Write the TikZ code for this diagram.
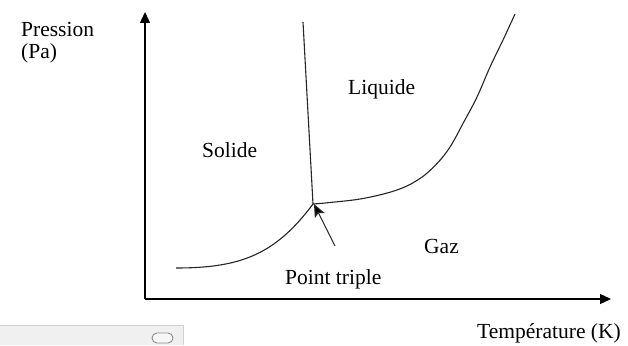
\documentclass[tikz,border=0pt]{standalone}
\usepackage{fontspec}
\setmainfont{Liberation Serif}
\usetikzlibrary{arrows.meta}
\begin{document}
\begin{tikzpicture}[x=1pt,y=-1pt,
  lbl/.style={inner sep=0pt,anchor=base west,font=\fontsize{21.5}{24}\selectfont},
  axis/.style={line width=1.3pt,-{Triangle[length=11pt,width=10pt]}},
  phase/.style={line width=1.1pt,draw=black!85},
  pointer/.style={line width=1.1pt,draw=black!85,-{Stealth[length=13pt,width=11pt,inset=3pt,fill=black]}}]
\useasboundingbox (0,0) rectangle (628,345);
\fill[white] (0,0) rectangle (628,345);
% coordinates
\coordinate (O) at (145,299);
\coordinate (ytop) at (145,12);
\coordinate (xend) at (611,299);
\coordinate (tp) at (313,204);
\coordinate (mtop) at (303,22);
\coordinate (sstart) at (176,268);
\coordinate (ptail) at (335,246);
\coordinate (phead) at (314,204);
% axes
\draw[axis] (O) -- (ytop);
\draw[axis] (O) -- (xend);
% phase boundaries
\draw[phase] (mtop) -- (tp);
\draw[phase] (sstart) .. controls (240,268) and (275,255) .. (tp);
\draw[phase] plot[smooth,tension=0.6] coordinates {(313,204) (330,202.5) (363,198.5) (397,190) (420,178.5) (437,163.5) (450,147) (463,123.5) (477,97) (490,67) (503,40) (515,14)};
% pointer
\draw[pointer] (ptail) -- (phead);
% labels
\node[lbl] (pression) at (21,37) {Pression};
\node[lbl] (pa) at (21,58) {(Pa)};
\node[lbl] (solide) at (202,157) {Solide};
\node[lbl] (liquide) at (348,94) {Liquide};
\node[lbl] (gaz) at (424,253) {Gaz};
\node[lbl] (ptriple) at (285,284) {Point triple};
\node[lbl] (temp) at (477,338) {Température (K)};
% grey strip (screen artefact)
\fill[black!6] (0,325) rectangle (183,345);
\draw[black!18,line width=0.8pt] (0,325) -- (183,325) -- (183,345);
\draw[black!45,fill=black!3,line width=0.9pt,rounded corners=5pt] (152,333) rectangle (173,343);
\end{tikzpicture}
\end{document}
